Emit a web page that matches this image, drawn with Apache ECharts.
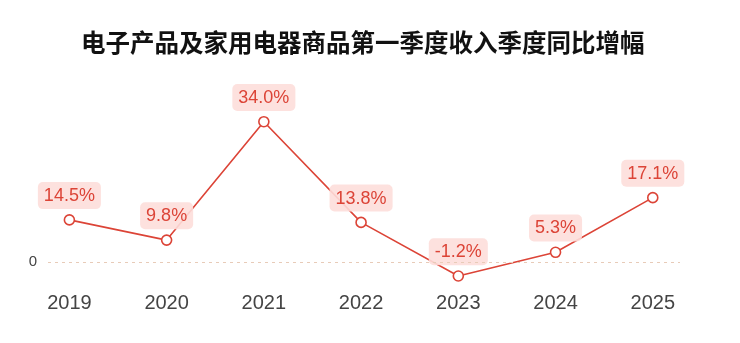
<!DOCTYPE html>
<html><head><meta charset="utf-8">
<script src="https://cdn.jsdelivr.net/npm/echarts@6/dist/echarts.min.js"></script>
<style>html,body{margin:0;padding:0;background:#fff}#c{width:740px;height:343px}</style>
</head><body><div id="c"></div>
<script>
const years = ['2019','2020','2021','2022','2023','2024','2025'];
// Growth values shown in the labels (%)
const growthPct = [14.5, 9.8, 34.0, 13.8, -1.2, 5.3, 17.1];
// Vertical level of each point as drawn in the reference (same units, 34.0 at top)
const plotLevels = [10.2, 5.3, 34.0, 9.6, -3.4, 2.35, 15.6];
const yTicks = [0];

const chart = echarts.init(document.getElementById('c'));
const FONT = '"Noto Sans CJK SC", "Liberation Sans", Arial, sans-serif';
chart.setOption({
  animation: false,
  title: {
    text: '电子产品及家用电器商品第一季度收入季度同比增幅',
    left: 76, top: 25,
    textStyle: {fontFamily: FONT, fontSize: 24.5, fontWeight: 'bold', color: '#111'}
  },
  grid: {left: 48, right: 60, top: 117.6, bottom: 60.4},
  xAxis: {
    type: 'value', min: -0.22, max: 6.28,
    axisLine: {show: false}, axisTick: {show: false}, splitLine: {show: false},
    axisLabel: {
      customValues: years.map((y, i) => i),
      formatter: v => years[Math.round(v)],
      fontFamily: '"Liberation Sans", Arial, sans-serif', fontSize: 20, color: '#444', margin: 11
    }
  },
  yAxis: {
    type: 'value', min: -5, max: 35,
    axisLine: {show: false}, axisTick: {show: false}, splitLine: {show: false},
    axisLabel: {customValues: yTicks, fontFamily: '"Liberation Sans", Arial, sans-serif', fontSize: 15, color: '#444', margin: 11}
  },
  series: [{
    type: 'line',
    data: plotLevels.map((v, i) => [i, v]),
    symbol: 'circle', symbolSize: 10,
    lineStyle: {color: '#dc4437', width: 1.6},
    itemStyle: {color: '#fff', borderColor: '#dc4437', borderWidth: 1.6},
    label: {
      show: true, position: 'top', distance: 5,
      formatter: p => growthPct[p.dataIndex].toFixed(1) + '%',
      fontFamily: '"Liberation Sans", Arial, sans-serif', fontSize: 18, color: '#dc4437',
      backgroundColor: 'rgba(253,222,218,0.9)', borderRadius: 5, padding: [5, 6, 4, 6]
    },
    markLine: {
      silent: true, symbol: 'none', label: {show: false},
      lineStyle: {color: '#e8cbb8', type: [3, 4], width: 1},
      data: yTicks.map(t => ({yAxis: t}))
    },
    z: 3
  }]
});
</script></body></html>
